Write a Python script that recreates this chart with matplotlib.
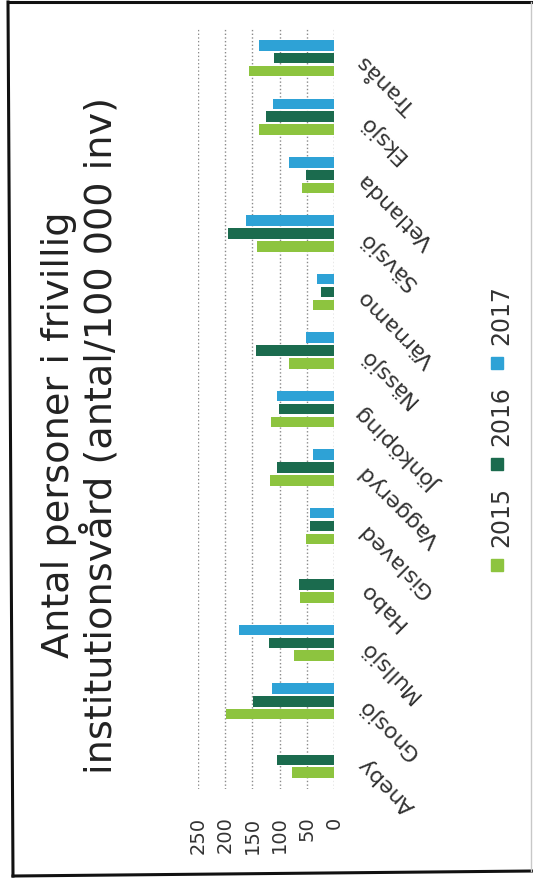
import matplotlib
matplotlib.use("Agg")
import matplotlib.pyplot as plt
from matplotlib.patches import Rectangle
from matplotlib.lines import Line2D
import numpy as np

kommuner = ["Aneby", "Gnosjö", "Mullsjö", "Habo", "Gislaved", "Vaggeryd", "Jönköping",
            "Nässjö", "Värnamo", "Sävsjö", "Vetlanda", "Eksjö", "Tranås"]
v2015 = [77, 198, 73, 62, 51, 118, 116, 82, 38, 141, 58, 137, 157]
v2016 = [105, 148, 120, 64, 45, 105, 102, 143, 24, 195, 52, 125, 110]
v2017 = [0, 114, 175, 0, 44, 38, 104, 52, 32, 162, 83, 113, 137]
years = ["2015", "2016", "2017"]
value_ticks = [0, 50, 100, 150, 200, 250]

colors = {"2015": "#8dc43f", "2016": "#1b6b4e", "2017": "#2ea2d6"}

W, H = 533, 879
fig = plt.figure(figsize=(W / 100, H / 100), dpi=100)
fig.patch.set_facecolor("white")


def px(x, y):
    # pixel position (from top-left) -> figure fraction
    return x / W, 1 - y / H


# scanned paper frame (slightly skewed like the scan)
frame = [((8, 3), (13, 877), "#111111", 2.2),
         ((8, 3), (533, 3), "#111111", 2.2),
         ((13, 877), (533, 872), "#111111", 2.2),
         ((531, 3), (531, 872), "#c8c8c8", 1.0)]
for (x0, y0), (x1, y1), c, lw in frame:
    a, b = px(x0, y0)
    c2, d = px(x1, y1)
    fig.lines.append(Line2D([a, c2], [b, d], transform=fig.transFigure, color=c, linewidth=lw))

# plot area (the whole chart is turned 90 degrees)
ax = fig.add_axes([198 / W, 1 - 790 / H, (334 - 198) / W, 760 / H])

y = np.arange(len(kommuner))
h = 0.18
ax.barh(y - 0.22, v2015, height=h, color=colors["2015"], zorder=3)
ax.barh(y, v2016, height=h, color=colors["2016"], zorder=3)
ax.barh(y + 0.22, v2017, height=h, color=colors["2017"], zorder=3)

ax.set_xlim(250, 0)
ax.set_ylim(-0.5, len(kommuner) - 0.5)
ax.set_xticks(value_ticks)
ax.grid(axis="x", linestyle=":", color="#8a8a8a", linewidth=1.0, zorder=0)
for s in ax.spines.values():
    s.set_visible(False)

ax.tick_params(axis="x", length=0, pad=19, labelsize=14, labelcolor="#333333")
for lab in ax.get_xticklabels():
    lab.set_rotation(90)
    lab.set_va("top")
    lab.set_ha("center")

ax.yaxis.tick_right()
ax.set_yticks(y)
ax.set_yticklabels(kommuner)
ax.tick_params(axis="y", length=0, pad=20, labelsize=16, labelcolor="#333333")
for lab in ax.get_yticklabels():
    lab.set_rotation(135)
    lab.set_ha("right")
    lab.set_va("center")
    lab.set_rotation_mode("anchor")

# title, also turned
fig.text(80 / W, 1 - 435 / H, "Antal personer i frivillig\ninstitutionsvård (antal/100 000 inv)",
         rotation=90, ha="center", va="center", multialignment="center",
         fontsize=27.5, color="#222222", linespacing=1.12)

# legend drawn by hand, turned like the rest
leg_y = {"2015": 566, "2016": 465, "2017": 364}
for yr in years:
    yc = leg_y[yr]
    fig.patches.append(Rectangle((491 / W, 1 - (yc + 6) / H), 12 / W, 12 / H,
                                 transform=fig.transFigure, color=colors[yr]))
    fig.text(501 / W, 1 - (yc - 19) / H, yr, rotation=90, ha="center", va="bottom",
             fontsize=17, color="#333333")

fig.savefig("out.png", dpi=100)
